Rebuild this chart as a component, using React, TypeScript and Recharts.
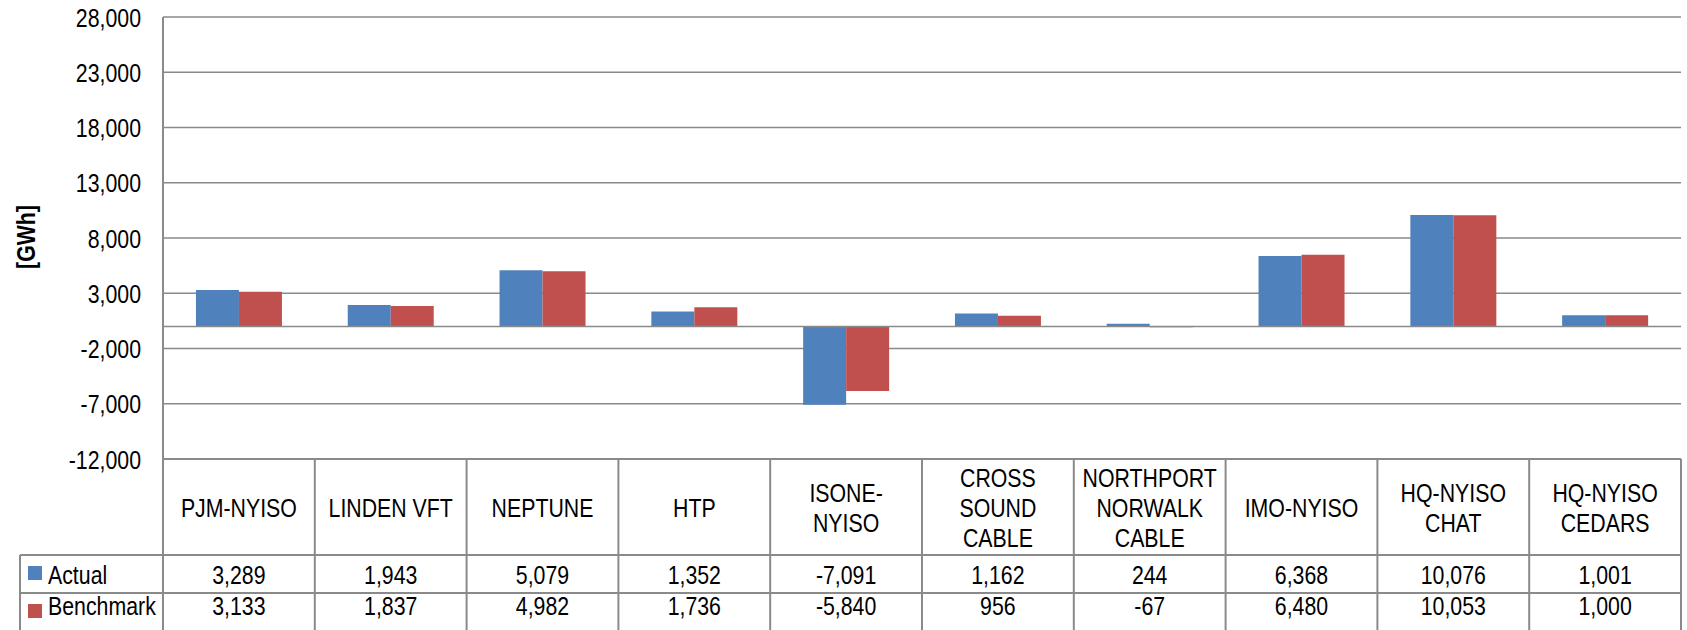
import React from 'react';
import { BarChart, Bar, XAxis, YAxis, CartesianGrid, ReferenceLine } from 'recharts';

const categories = [
  'PJM-NYISO',
  'LINDEN VFT',
  'NEPTUNE',
  'HTP',
  'ISONE-\nNYISO',
  'CROSS\nSOUND\nCABLE',
  'NORTHPORT\nNORWALK\nCABLE',
  'IMO-NYISO',
  'HQ-NYISO\nCHAT',
  'HQ-NYISO\nCEDARS',
];
const actual = [3289, 1943, 5079, 1352, -7091, 1162, 244, 6368, 10076, 1001];
const benchmark = [3133, 1837, 4982, 1736, -5840, 956, -67, 6480, 10053, 1000];
const yTicks = [-12000, -7000, -2000, 3000, 8000, 13000, 18000, 23000, 28000];
const seriesNames = ['Actual', 'Benchmark'];

const data = categories.map((c, i) => ({ name: c, actual: actual[i], benchmark: benchmark[i] }));

const W = 1687;
const H = 630;
const PLOT_LEFT = 163;
const PLOT_RIGHT = 1681;
const PLOT_TOP = 17;
const TABLE_TOP = 459;
const ROW1 = 555;
const ROW2 = 593;
const LEG_LEFT = 20;
const COL_W = (PLOT_RIGHT - PLOT_LEFT) / categories.length;
const BLUE = '#4F81BD';
const RED = '#C0504D';
const GRID = '#8a8a8a';
const FONT = "'Liberation Sans', Arial, sans-serif";
const FS = 26;
const LH = 30;
const SX = 0.82;

const fmt = (v: number) => v.toLocaleString('en-US');

const NText = ({ x, y, anchor = 'middle', bold = false, rotate = 0, children }: any) => (
  <g transform={`translate(${x} ${y}) rotate(${rotate}) scale(${SX} 1)`}>
    <text
      x={0}
      y={0}
      textAnchor={anchor}
      fontSize={FS}
      fontFamily={FONT}
      fontWeight={bold ? 'bold' : 'normal'}
      fill="#000"
    >
      {children}
    </text>
  </g>
);

const TableTick = (props: any) => {
  const { x, payload, index } = props;
  const lines = String(payload.value).split('\n');
  const catCenter = (TABLE_TOP + ROW1) / 2;
  const firstBase = catCenter - ((lines.length - 1) * LH) / 2 + 10;
  const right = x + COL_W / 2;
  return (
    <g>
      {index === 0 && (
        <g>
          <line x1={PLOT_LEFT} y1={TABLE_TOP} x2={PLOT_LEFT} y2={H} stroke={GRID} strokeWidth={2} />
          <line x1={LEG_LEFT} y1={ROW1} x2={PLOT_RIGHT} y2={ROW1} stroke={GRID} strokeWidth={2} />
          <line x1={LEG_LEFT} y1={ROW2} x2={PLOT_RIGHT} y2={ROW2} stroke={GRID} strokeWidth={2} />
          <line x1={LEG_LEFT} y1={ROW1} x2={LEG_LEFT} y2={H} stroke={GRID} strokeWidth={2} />
          <rect x={28} y={566} width={14} height={14} fill={BLUE} />
          <rect x={28} y={604} width={14} height={14} fill={RED} />
          <NText x={48} y={584} anchor="start">{seriesNames[0]}</NText>
          <NText x={48} y={615} anchor="start">{seriesNames[1]}</NText>
        </g>
      )}
      <line x1={right} y1={TABLE_TOP} x2={right} y2={H} stroke={GRID} strokeWidth={2} />
      {lines.map((l, i) => (
        <NText key={i} x={x} y={firstBase + i * LH}>{l}</NText>
      ))}
      <NText x={x} y={584}>{fmt(actual[index])}</NText>
      <NText x={x} y={615}>{fmt(benchmark[index])}</NText>
    </g>
  );
};

const YTick = (props: any) => {
  const { x, y, payload } = props;
  return <NText x={x} y={y + 9.5} anchor="end">{fmt(payload.value)}</NText>;
};

const YLabel = () => (
  <NText x={35} y={237} rotate={-90} bold>[GWh]</NText>
);

export default function App() {
  return (
    <div style={{ position: 'absolute', left: 0, top: 0, width: W, height: H, background: '#fff' }}>
      <BarChart
        width={W}
        height={H}
        data={data}
        margin={{ top: PLOT_TOP, right: W - PLOT_RIGHT, bottom: 0, left: 0 }}
        barCategoryGap="21.7%"
        barGap={0}
      >
        <CartesianGrid vertical={false} stroke={GRID} strokeWidth={1.5} />
        <XAxis
          dataKey="name"
          height={H - TABLE_TOP}
          axisLine={{ stroke: GRID, strokeWidth: 2 }}
          tickLine={false}
          tickSize={0}
          tickMargin={0}
          interval={0}
          tick={<TableTick />}
        />
        <YAxis
          width={PLOT_LEFT}
          domain={[-12000, 28000]}
          ticks={yTicks}
          interval={0}
          axisLine={{ stroke: GRID, strokeWidth: 2 }}
          tickLine={false}
          tickSize={0}
          tickMargin={22}
          tick={<YTick />}
          label={{ content: () => <YLabel /> }}
        />
        <ReferenceLine y={0} stroke={GRID} strokeWidth={1.5} />
        <Bar dataKey="actual" fill={BLUE} isAnimationActive={false} />
        <Bar dataKey="benchmark" fill={RED} isAnimationActive={false} />
      </BarChart>
    </div>
  );
}
